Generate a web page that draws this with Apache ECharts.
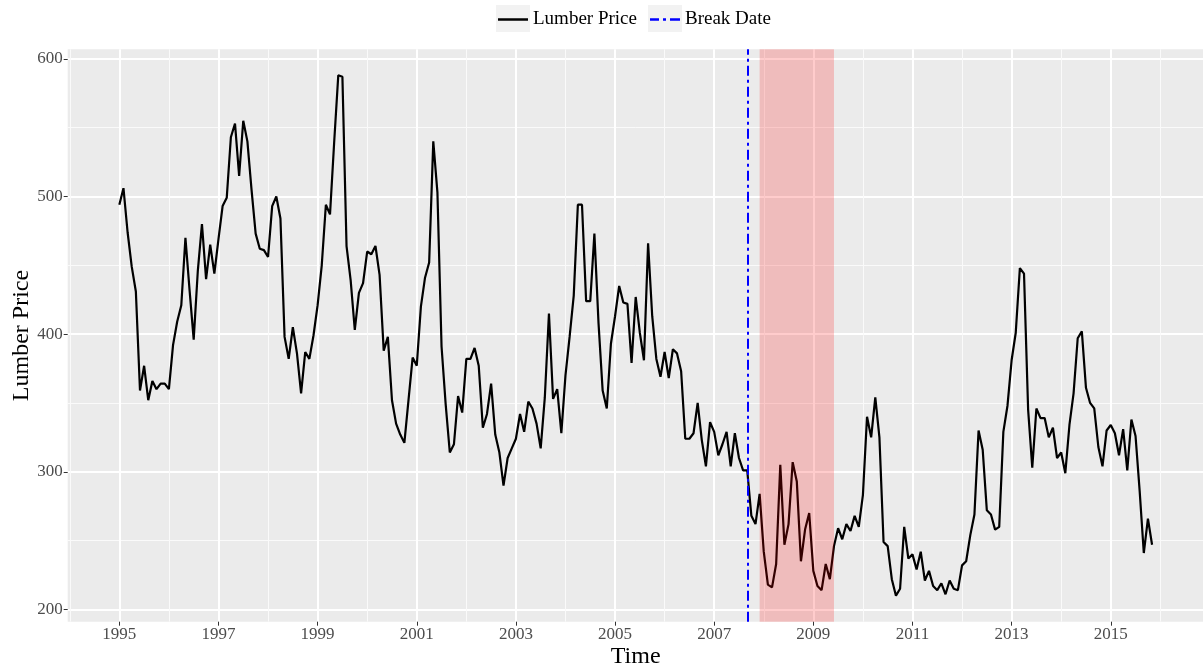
<!DOCTYPE html>
<html>
<head>
<meta charset="utf-8">
<script src="https://cdn.jsdelivr.net/npm/echarts@6/dist/echarts.min.js"></script>
<style>
  html, body { margin: 0; padding: 0; background: #ffffff; }
  #chart { width: 1203px; height: 671px; }
</style>
</head>
<body>
<div id="chart"></div>
<script>
// Monthly lumber price, January 1995 .. November 2015
const firstYear = 1995;
const firstMonth = 1;
const prices = [
  494, 506, 474, 449, 431, 359, 377, 352, 366, 360, 364, 364,
  360, 392, 409, 421, 470, 432, 396, 446, 480, 440, 465, 444,
  469, 493, 499, 543, 553, 515, 555, 540, 505, 473, 462, 461,
  456, 493, 500, 484, 398, 382, 405, 386, 357, 387, 382, 399,
  421, 450, 494, 487, 539, 588, 587, 464, 439, 403, 430, 437,
  460, 458, 464, 443, 388, 398, 352, 335, 327, 321, 352, 383,
  377, 420, 441, 452, 540, 503, 391, 349, 314, 320, 355, 343,
  382, 382, 390, 377, 332, 342, 364, 327, 314, 290, 310, 317,
  324, 342, 329, 351, 346, 335, 317, 354, 415, 353, 360, 328,
  370, 398, 428, 494, 494, 424, 424, 473, 408, 359, 346, 393,
  413, 435, 423, 422, 379, 427, 401, 381, 466, 413, 382, 369,
  387, 368, 389, 386, 373, 324, 324, 328, 350, 323, 304, 336,
  329, 312, 320, 329, 304, 328, 310, 301, 301, 268, 262, 284,
  242, 218, 216, 233, 305, 247, 262, 307, 293, 235, 258, 270,
  228, 217, 214, 233, 222, 246, 259, 251, 262, 257, 268, 260,
  283, 340, 325, 354, 325, 249, 246, 222, 210, 215, 260, 237,
  240, 229, 242, 221, 228, 217, 214, 219, 211, 221, 215, 214,
  232, 235, 254, 269, 330, 316, 272, 269, 258, 260, 329, 348,
  381, 401, 448, 444, 345, 303, 346, 339, 339, 325, 332, 310,
  314, 299, 334, 357, 397, 402, 361, 350, 346, 318, 304, 330,
  334, 328, 312, 331, 301, 338, 326, 286, 241, 266, 247
];
const breakDate = [2007, 9];          // year, month
const recession = [[2007, 12], [2009, 6]];
const xMajorYears = [1995, 1997, 1999, 2001, 2003, 2005, 2007, 2009, 2011, 2013, 2015];
const xMinorYears = [1994, 1996, 1998, 2000, 2002, 2004, 2006, 2008, 2010, 2012, 2014, 2016];
const yMajorTicks = [200, 300, 400, 500, 600];
const yMinorTicks = [250, 350, 450, 550];

const toDecimal = (y, m) => y + (m - 1) / 12;
const seriesData = prices.map((p, i) => [toDecimal(firstYear, firstMonth) + i / 12, p]);

const xFirst = seriesData[0][0], xLast = seriesData[seriesData.length - 1][0];
const xPad = (xLast - xFirst) * 0.05;
const yLo = Math.min(...prices), yHi = Math.max(...prices);
const yPad = (yHi - yLo) * 0.05;
const xMin = xFirst - xPad, xMax = xLast + xPad;
const yMin = yLo - yPad, yMax = yHi + yPad;

const FONT = 'Liberation Serif';
const DASHDOT = [10, 4, 3, 4];
const chart = echarts.init(document.getElementById('chart'), null, { renderer: 'canvas' });

const baseX = { type: 'value', min: xMin, max: xMax, gridIndex: 0, axisLine: { show: false } };
const baseY = { type: 'value', min: yMin, max: yMax, gridIndex: 0, axisLine: { show: false } };

const legendText = { fontFamily: FONT, fontSize: 19, color: '#000000' };

chart.setOption({
  backgroundColor: '#ffffff',
  animation: false,
  grid: {
    left: 67.7, top: 49.3, width: 1136, height: 572.4,
    outerBoundsMode: 'none', containLabel: false,
    show: true, backgroundColor: '#ebebeb', borderWidth: 0
  },
  legend: [
    {
      data: [{ name: 'Lumber Price', icon: 'path://M0,0h30v2.5h-30z' }],
      left: 498, top: 10, padding: 0, itemWidth: 30, itemHeight: 2.5, z: 10,
      textStyle: legendText
    },
    {
      data: [{ name: 'Break Date', icon: 'path://M0,0h9v2.5h-9zM13,0h3v2.5h-3zM20,0h10v2.5h-10z' }],
      left: 650, top: 10, padding: 0, itemWidth: 30, itemHeight: 2.5, z: 10,
      textStyle: legendText
    }
  ],
  graphic: [
    { type: 'rect', left: 496, top: 5, z: 0, shape: { width: 34, height: 27 }, style: { fill: '#f2f2f2' } },
    { type: 'rect', left: 648, top: 5, z: 0, shape: { width: 34, height: 27 }, style: { fill: '#f2f2f2' } }
  ],
  xAxis: [
    Object.assign({}, baseX, {
      name: 'Time', nameLocation: 'middle', nameGap: 23, nameMoveOverlap: false,
      nameTextStyle: { fontFamily: FONT, fontSize: 24, color: '#000000', verticalAlign: 'top' },
      axisTick: { show: true, length: 4, lineStyle: { color: '#333333', width: 1 }, customValues: xMajorYears },
      axisLabel: { customValues: xMajorYears, margin: 4, fontFamily: FONT, fontSize: 17, color: '#4d4d4d',
                   formatter: v => String(Math.round(v)) },
      splitLine: { show: true, lineStyle: { color: '#ffffff', width: 2 } }
    }),
    Object.assign({}, baseX, {
      axisTick: { show: false, customValues: xMinorYears },
      axisLabel: { show: false, customValues: xMinorYears },
      splitLine: { show: true, lineStyle: { color: '#fafafa', width: 1 } }
    })
  ],
  yAxis: [
    Object.assign({}, baseY, {
      name: 'Lumber Price', nameLocation: 'middle', nameGap: 34, nameMoveOverlap: false,
      nameTextStyle: { fontFamily: FONT, fontSize: 24, color: '#000000' },
      axisTick: { show: true, length: 4, lineStyle: { color: '#333333', width: 1 }, customValues: yMajorTicks },
      axisLabel: { customValues: yMajorTicks, margin: 5, fontFamily: FONT, fontSize: 17, color: '#4d4d4d' },
      splitLine: { show: true, lineStyle: { color: '#ffffff', width: 2 } }
    }),
    Object.assign({}, baseY, {
      position: 'left',
      axisTick: { show: false, customValues: yMinorTicks },
      axisLabel: { show: false, customValues: yMinorTicks },
      splitLine: { show: true, lineStyle: { color: '#fafafa', width: 1 } }
    })
  ],
  series: [
    {
      name: 'Lumber Price', type: 'line', xAxisIndex: 0, yAxisIndex: 0,
      data: seriesData, symbol: 'none', showSymbol: false, z: 2,
      color: '#000000',
      lineStyle: { color: '#000000', width: 2.2 },
      markArea: {
        silent: true, z: 3,
        itemStyle: { color: 'rgba(255,0,0,0.2)' },
        data: [[{ xAxis: toDecimal(recession[0][0], recession[0][1]) },
                { xAxis: toDecimal(recession[1][0], recession[1][1]) }]]
      }
    },
    {
      name: 'Break Date', type: 'line', xAxisIndex: 0, yAxisIndex: 0,
      data: [], symbol: 'none', showSymbol: false, z: 4,
      color: '#0000ff',
      lineStyle: { color: '#0000ff', width: 2, type: DASHDOT },
      markLine: {
        silent: true, symbol: ['none', 'none'], label: { show: false },
        lineStyle: { color: '#0000ff', width: 2, type: DASHDOT },
        data: [{ xAxis: toDecimal(breakDate[0], breakDate[1]) }]
      }
    }
  ]
});
</script>
</body>
</html>
